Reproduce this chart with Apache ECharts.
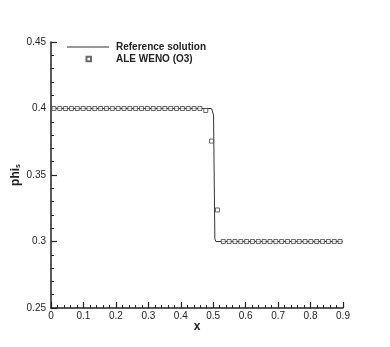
<!DOCTYPE html>
<html>
<head>
<meta charset="utf-8">
<script src="https://cdn.jsdelivr.net/npm/echarts@6/dist/echarts.min.js"></script>
<style>
  html, body { margin: 0; padding: 0; background: #fff; }
  #chart { width: 390px; height: 347px; }
</style>
</head>
<body>
<div id="chart"></div>
<script>
// reference solution (x, phi_s)
const refX = [0, 0.495, 0.499, 0.501, 0.505, 0.508, 0.9]
const refY = [0.4, 0.4, 0.399, 0.395, 0.302, 0.3, 0.3]

// ALE WENO (O3) cell values, cell centres at (i + 0.5) * dx
const dx = 0.018
const wenoY = [
  0.4, 0.4, 0.4, 0.4, 0.4, 0.4, 0.4, 0.4, 0.4, 0.4,
  0.4, 0.4, 0.4, 0.4, 0.4, 0.4, 0.4, 0.4, 0.4, 0.4,
  0.4, 0.4, 0.4, 0.4, 0.4, 0.4, 0.3985, 0.3755, 0.3237, 0.3,
  0.3, 0.3, 0.3, 0.3, 0.3, 0.3, 0.3, 0.3, 0.3, 0.3,
  0.3, 0.3, 0.3, 0.3, 0.3, 0.3, 0.3, 0.3, 0.3, 0.3
]

const refData = refX.map((x, i) => [x, refY[i]])
const wenoData = wenoY.map((y, i) => [(i + 0.5) * dx, y])

const font = '"Liberation Sans", Arial, Helvetica, sans-serif'
const ink = '#222'

const chart = echarts.init(document.getElementById('chart'))
chart.setOption({
  backgroundColor: '#fff',
  animation: false,
  textStyle: { fontFamily: font },
  grid: { left: 51, right: 47, top: 42, bottom: 39, containLabel: false, outerBoundsMode: 'none' },
  legend: [
    {
      data: [{ name: 'Reference solution', icon: 'rect', itemStyle: { color: '#333' } }],
      left: 67,
      top: 42,
      padding: 0,
      itemWidth: 42,
      itemHeight: 1,
      textStyle: { fontFamily: font, fontSize: 10, fontWeight: 'bold', color: ink, padding: [0, 0, 0, 2] }
    },
    {
      data: ['ALE WENO (O3)'],
      left: 85.5,
      top: 54,
      padding: 0,
      itemWidth: 4.5,
      itemHeight: 4.5,
      textStyle: { fontFamily: font, fontSize: 10, fontWeight: 'bold', color: ink, padding: [0, 0, 0, 20] }
    }
  ],
  xAxis: {
    type: 'value',
    min: 0,
    max: 0.9,
    interval: 0.1,
    name: 'x',
    nameLocation: 'middle',
    nameGap: 13,
    nameMoveOverlap: false,
    nameTextStyle: { fontFamily: font, fontSize: 12, fontWeight: 'bold', color: ink },
    axisLine: { show: true, lineStyle: { color: ink, width: 1.5 } },
    axisTick: { show: true, inside: true, length: 6, lineStyle: { color: ink, width: 1.2 } },
    minorTick: { show: true, splitNumber: 5, length: 3, lineStyle: { color: ink, width: 1 } },
    axisLabel: { fontFamily: font, fontSize: 10, color: ink, margin: 3 },
    splitLine: { show: false }
  },
  yAxis: {
    type: 'value',
    min: 0.25,
    max: 0.45,
    interval: 0.05,
    name: '{a|phi}{s|s}',
    nameLocation: 'middle',
    nameGap: 29,
    nameMoveOverlap: false,
    nameTextStyle: {
      fontFamily: font,
      color: ink,
      rich: {
        a: { fontFamily: font, fontSize: 12, fontWeight: 'bold', color: ink },
        s: { fontFamily: font, fontSize: 7, fontWeight: 'bold', color: ink, verticalAlign: 'bottom', padding: [6, 0, 0, 0] }
      }
    },
    axisLine: { show: true, lineStyle: { color: ink, width: 1.5 } },
    axisTick: { show: true, inside: true, length: 6, lineStyle: { color: ink, width: 1.2 } },
    minorTick: { show: true, splitNumber: 5, length: 3, lineStyle: { color: ink, width: 1 } },
    axisLabel: { fontFamily: font, fontSize: 10, color: ink, margin: 5 },
    splitLine: { show: false }
  },
  series: [
    {
      name: 'Reference solution',
      type: 'line',
      data: refData,
      showSymbol: false,
      symbol: 'none',
      lineStyle: { color: '#333', width: 1 },
      itemStyle: { color: '#333' },
      z: 2
    },
    {
      name: 'ALE WENO (O3)',
      type: 'scatter',
      data: wenoData,
      symbol: 'rect',
      symbolSize: 4,
      itemStyle: { color: '#fff', borderColor: '#444', borderWidth: 1 },
      z: 3
    }
  ]
})
</script>
</body>
</html>
